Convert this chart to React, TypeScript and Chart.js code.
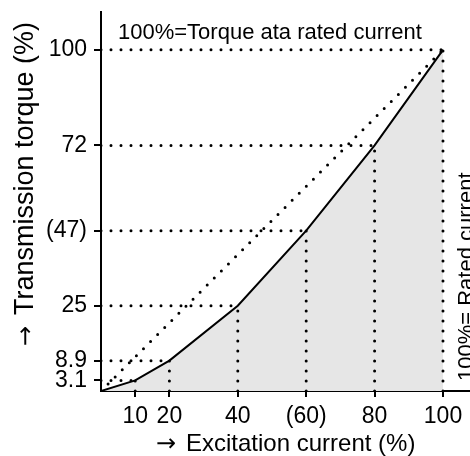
import { useEffect, useRef } from 'react';
import { Chart, registerables } from 'chart.js';

Chart.register(...registerables);

const excitationCurrent = [0, 10, 20, 40, 60, 80, 100];
const transmissionTorque = [0, 3.1, 8.9, 25, 47, 72, 100];
const xTickValues = [10, 20, 40, 60, 80, 100];
const xTickLabels = ['10', '20', '40', '(60)', '80', '100'];
const yTickValues = [3.1, 8.9, 25, 47, 72, 100];
const yTickLabels = ['3.1', '8.9', '25', '(47)', '72', '100'];
const proportionalX = [0, 100];
const proportionalY = [0, 100];

const TITLE = '100%=Torque ata rated current';
const ARROW = '\u2192';
const X_LABEL = 'Excitation current (%)';
const Y_LABEL = 'Transmission torque (%)';
const RIGHT_NOTE = '100%= Rated current';

const FONT = "'Liberation Sans', Arial, Helvetica, sans-serif";
const ARROW_FONT = "'DejaVu Sans', sans-serif";

const textPlugin = {
  id: 'chartTexts',
  afterDraw(chart: any) {
    const ctx = chart.ctx as CanvasRenderingContext2D;
    ctx.save();
    ctx.fillStyle = '#000';
    ctx.textBaseline = 'alphabetic';
    ctx.textAlign = 'left';

    ctx.font = `22px ${FONT}`;
    ctx.fillText(TITLE, 118, 39);

    ctx.font = `24px ${ARROW_FONT}`;
    ctx.fillText(ARROW, 156, 451);
    ctx.font = `24px ${FONT}`;
    ctx.fillText(X_LABEL, 186, 451);

    ctx.save();
    ctx.translate(33, 346);
    ctx.rotate(-Math.PI / 2);
    ctx.font = `24px ${ARROW_FONT}`;
    ctx.fillText(ARROW, 0, 0);
    ctx.font = `27px ${FONT}`;
    ctx.fillText(Y_LABEL, 31, 0);
    ctx.restore();

    ctx.save();
    ctx.translate(473, 381);
    ctx.rotate(-Math.PI / 2);
    ctx.font = `22px ${FONT}`;
    ctx.fillText(RIGHT_NOTE, 0, 0);
    ctx.restore();

    ctx.restore();
  },
};

export default function App() {
  const canvasRef = useRef<HTMLCanvasElement | null>(null);

  useEffect(() => {
    document.body.style.margin = '0';
    const canvas = canvasRef.current;
    if (!canvas) return;

    const dotted = {
      borderColor: '#000',
      borderWidth: 3,
      borderDash: [0, 10],
      borderCapStyle: 'round' as const,
      pointRadius: 0,
      fill: false,
      tension: 0,
    };

    const datasets: any[] = [];
    datasets.push({
      label: 'curve',
      data: excitationCurrent.map((x, i) => ({ x, y: transmissionTorque[i] })),
      borderColor: '#000',
      borderWidth: 2,
      backgroundColor: '#e6e6e6',
      fill: 'origin',
      pointRadius: 0,
      tension: 0,
    });
    datasets.push({
      label: 'proportional',
      data: proportionalX.map((x, i) => ({ x, y: proportionalY[i] })),
      ...dotted,
    });
    excitationCurrent.forEach((x, i) => {
      if (i === 0) return;
      const y = transmissionTorque[i];
      datasets.push({ label: 'h' + i, data: [{ x: 0, y }, { x, y }], ...dotted });
      datasets.push({ label: 'v' + i, data: [{ x, y: 0 }, { x, y }], ...dotted });
    });

    const tickFont = { family: FONT, size: 23 };

    const chart = new Chart(canvas, {
      type: 'line',
      data: { datasets },
      plugins: [textPlugin],
      options: {
        animation: false,
        responsive: false,
        devicePixelRatio: 1,
        layout: { padding: { top: 12, right: 0, left: 0, bottom: 0 } },
        plugins: {
          legend: { display: false },
          tooltip: { enabled: false },
          title: { display: false },
          filler: { drawTime: 'beforeDatasetsDraw' },
        } as any,
        scales: {
          x: {
            type: 'linear',
            min: 0,
            max: 107.9,
            afterBuildTicks: (scale: any) => {
              scale.ticks = xTickValues.map((v) => ({ value: v }));
            },
            afterFit: (scale: any) => {
              scale.height = 65;
              scale.paddingLeft = 0;
              scale.paddingRight = 0;
            },
            ticks: {
              autoSkip: false,
              maxRotation: 0,
              color: '#000',
              font: tickFont,
              padding: 6,
              callback: (_v: any, i: number) => xTickLabels[i],
            },
            grid: {
              drawOnChartArea: false,
              drawTicks: true,
              tickLength: 6,
              color: '#000',
              lineWidth: 2,
            },
            border: { display: true, color: '#000', width: 2 },
          },
          y: {
            type: 'linear',
            min: 0,
            max: 111.1,
            afterBuildTicks: (scale: any) => {
              scale.ticks = yTickValues.map((v) => ({ value: v }));
            },
            afterFit: (scale: any) => {
              scale.width = 101;
              scale.paddingTop = 0;
              scale.paddingBottom = 0;
            },
            ticks: {
              autoSkip: false,
              color: '#000',
              font: tickFont,
              padding: 7,
              callback: (_v: any, i: number) => yTickLabels[i],
            },
            grid: {
              drawOnChartArea: false,
              drawTicks: true,
              tickLength: 7,
              color: '#000',
              lineWidth: 2,
            },
            border: { display: true, color: '#000', width: 2 },
          },
        },
      },
    });

    return () => chart.destroy();
  }, []);

  return (
    <div style={{ position: 'absolute', left: 0, top: 0, width: 470, height: 456 }}>
      <canvas ref={canvasRef} width={470} height={456} />
    </div>
  );
}
